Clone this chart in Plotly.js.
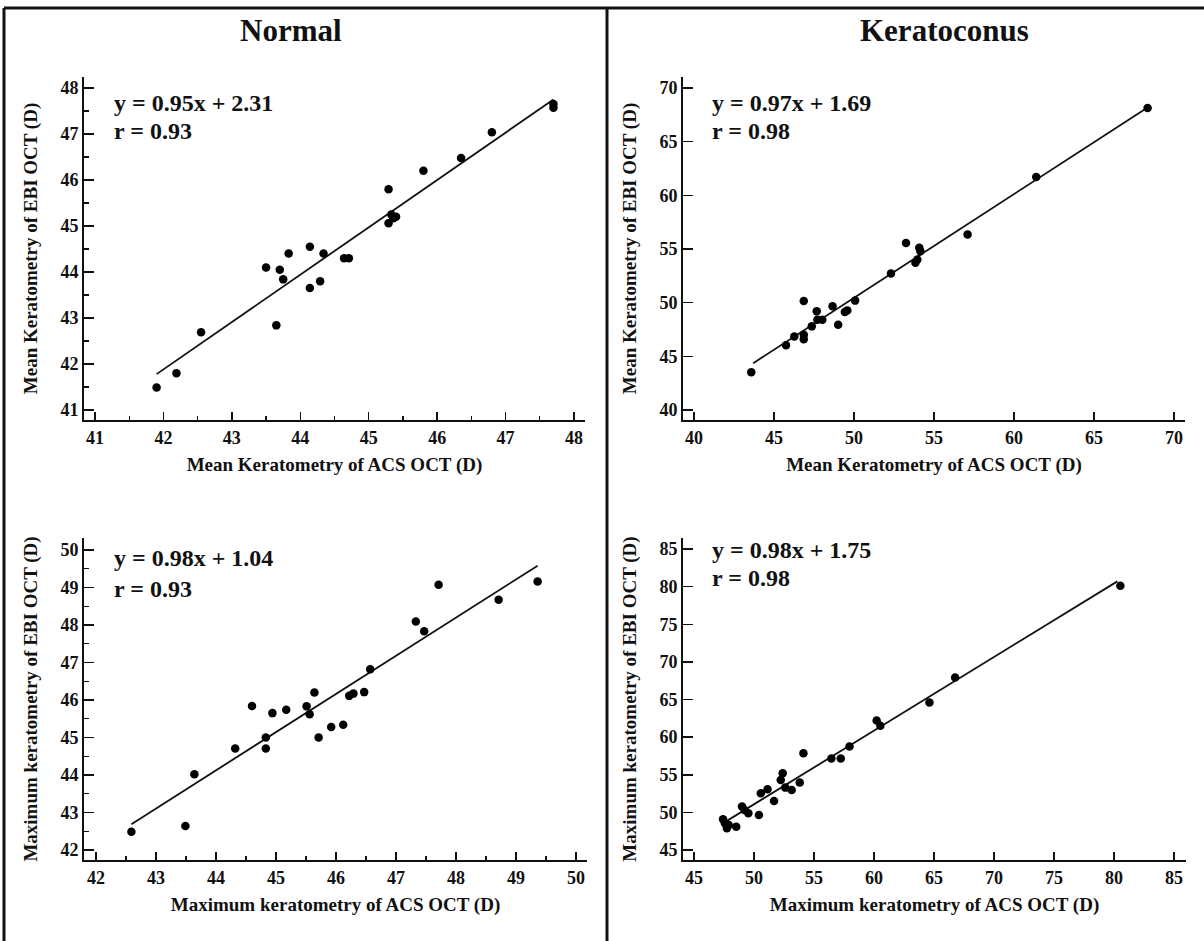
<!DOCTYPE html>
<html>
<head>
<meta charset="utf-8">
<script src="https://cdn.plot.ly/plotly-3.0.1.min.js"></script>
<style>html,body{margin:0;padding:0;background:#fff}#chart{width:1204px;height:941px}</style>
</head>
<body>
<div id="chart"></div>
<script>
// ---- Data ----
// Normal: mean keratometry (ACS OCT vs EBI OCT)
const normalMeanACS = [41.90, 42.19, 42.55, 43.50, 43.70, 43.75, 43.83, 43.65, 44.14, 44.14, 44.29, 44.34, 44.64, 44.71, 45.29, 45.29, 45.33, 45.40, 45.36, 45.80, 46.35, 46.80, 47.70, 47.70];
const normalMeanEBI = [41.49, 41.80, 42.69, 44.10, 44.05, 43.84, 44.40, 42.84, 44.55, 43.65, 43.80, 44.40, 44.30, 44.30, 45.80, 45.06, 45.25, 45.20, 45.17, 46.20, 46.48, 47.04, 47.65, 47.57];
const normalMeanFitX = [41.90, 47.70];
const normalMeanFitY = [41.78, 47.75];

// Keratoconus: mean keratometry
const kcMeanACS = [43.58, 45.75, 46.27, 46.86, 46.86, 46.86, 47.36, 47.67, 47.71, 48.02, 48.66, 49.01, 49.43, 49.58, 50.07, 52.31, 53.25, 53.84, 53.96, 54.08, 54.15, 57.10, 61.39, 68.35];
const kcMeanEBI = [43.52, 46.04, 46.85, 47.01, 46.60, 50.16, 47.79, 49.19, 48.41, 48.41, 49.66, 47.94, 49.13, 49.28, 50.19, 52.71, 55.55, 53.71, 54.02, 55.11, 54.80, 56.36, 61.71, 68.13];
const kcMeanFitX = [43.70, 68.35];
const kcMeanFitY = [44.36, 68.19];

// Normal: maximum keratometry
const normalMaxACS = [42.59, 43.49, 43.64, 44.32, 44.60, 44.83, 44.83, 44.94, 45.17, 45.51, 45.56, 45.64, 45.71, 45.92, 46.12, 46.22, 46.29, 46.47, 46.57, 47.33, 47.47, 47.71, 48.71, 49.36];
const normalMaxEBI = [42.49, 42.64, 44.02, 44.71, 45.84, 45.00, 44.71, 45.65, 45.74, 45.83, 45.62, 46.20, 45.00, 45.28, 45.34, 46.11, 46.17, 46.21, 46.82, 48.09, 47.83, 49.07, 48.67, 49.16];
const normalMaxFitX = [42.59, 49.36];
const normalMaxFitY = [42.69, 49.58];

// Keratoconus: maximum keratometry
const kcMaxACS = [47.42, 47.58, 47.74, 47.89, 48.52, 49.00, 49.21, 49.53, 50.41, 50.57, 51.13, 51.67, 52.23, 52.39, 52.61, 53.14, 53.81, 54.12, 56.45, 57.23, 57.96, 60.22, 60.53, 64.62, 66.76, 80.53];
const kcMaxEBI = [49.08, 48.55, 47.88, 48.33, 48.10, 50.77, 50.32, 49.88, 49.66, 52.54, 53.07, 51.52, 54.31, 55.20, 53.29, 52.98, 53.96, 57.86, 57.15, 57.15, 58.75, 62.21, 61.50, 64.60, 67.93, 80.12];
const kcMaxFitX = [47.64, 80.28];
const kcMaxFitY = [48.77, 80.70];

// Texts
const groupTitles = ["Normal", "Keratoconus"];
const xTitles = ["Mean Keratometry of ACS OCT (D)", "Mean Keratometry of ACS OCT (D)", "Maximum keratometry of ACS OCT (D)", "Maximum keratometry of ACS OCT (D)"];
const yTitles = ["Mean Keratometry of EBI OCT (D)", "Mean Keratometry of EBI OCT (D)", "Maximum keratometry of EBI OCT (D)", "Maximum keratometry of EBI OCT (D)"];
const equations = ["y = 0.95x + 2.31", "y = 0.97x + 1.69", "y = 0.98x + 1.04", "y = 0.98x + 1.75"];
const rValues = ["r = 0.93", "r = 0.98", "r = 0.93", "r = 0.98"];

// ---- Layout helpers ----
const W = 1204, H = 941;
const px = v => v / W;
const py = v => 1 - v / H;
const FONT = "Liberation Serif, Times New Roman, serif";
const INK = "#111";

const panels = [
  {x: normalMeanACS, y: normalMeanEBI, fx: normalMeanFitX, fy: normalMeanFitY, box: [84, 585, 77, 420], xr: [40.839, 48.161], yr: [40.783, 48.239], xd: 1, yd: 1, xm: 0.5, ym: 0.5, eq: [112, 103, 131]},
  {x: kcMeanACS, y: kcMeanEBI, fx: kcMeanFitX, fy: kcMeanFitY, box: [683, 1185, 77, 420], xr: [39.3125, 70.6875], yr: [39.065, 71.028], xd: 5, yd: 5, xm: null, ym: null, eq: [710, 103, 131]},
  {x: normalMaxACS, y: normalMaxEBI, fx: normalMaxFitX, fy: normalMaxFitY, box: [84, 587, 538, 860], xr: [41.8, 50.183], yr: [41.735, 50.318], xd: 1, yd: 1, xm: 0.5, ym: 0.5, eq: [112, 558, 589]},
  {x: kcMaxACS, y: kcMaxEBI, fx: kcMaxFitX, fy: kcMaxFitY, box: [683, 1186, 538, 860], xr: [44.083, 86.0], yr: [43.671, 86.462], xd: 5, yd: 5, xm: null, ym: null, eq: [710, 550, 578]}
];

const traces = [];
const layout = {
  width: W, height: H,
  margin: {l: 0, r: 0, t: 0, b: 0},
  paper_bgcolor: "#fff", plot_bgcolor: "#fff",
  showlegend: false,
  font: {family: FONT, color: INK, weight: "bold"},
  annotations: [], shapes: []
};

panels.forEach((p, i) => {
  const n = i === 0 ? "" : String(i + 1);
  const xa = "x" + n, ya = "y" + n;
  traces.push({
    type: "scatter", mode: "lines", x: p.fx, y: p.fy, xaxis: xa, yaxis: ya,
    line: {color: INK, width: 1.8}, hoverinfo: "skip"
  });
  traces.push({
    type: "scatter", mode: "markers", x: p.x, y: p.y, xaxis: xa, yaxis: ya,
    marker: {color: "#000", size: 8.5}
  });
  const common = {
    showgrid: false, zeroline: false, showline: true, linecolor: INK, linewidth: 2,
    ticks: "inside", tickcolor: INK, tickwidth: 1.5, mirror: false,
    tickfont: {family: FONT, size: 18, color: INK, weight: "bold"}
  };
  const xaxis = Object.assign({}, common, {
    domain: [px(p.box[0]), px(p.box[1])], range: p.xr, anchor: ya,
    dtick: p.xd, ticklen: 8,
    title: {text: xTitles[i], font: {family: FONT, size: 19, color: INK, weight: "bold"}, standoff: 11}
  });
  const yaxis = Object.assign({}, common, {
    domain: [py(p.box[3]), py(p.box[2])], range: p.yr, anchor: xa,
    dtick: p.yd, ticklen: 10,
    title: {text: yTitles[i], font: {family: FONT, size: 19, color: INK, weight: "bold"}, standoff: 18}
  });
  if (p.xm) xaxis.minor = {dtick: p.xm, ticks: "inside", ticklen: 4, tickcolor: INK, tickwidth: 1.2, showgrid: false};
  if (p.ym) yaxis.minor = {dtick: p.ym, ticks: "inside", ticklen: 5, tickcolor: INK, tickwidth: 1.2, showgrid: false};
  layout["xaxis" + n] = xaxis;
  layout["yaxis" + n] = yaxis;

  layout.annotations.push({
    xref: "paper", yref: "paper", x: px(p.eq[0]), y: py(p.eq[1]), xanchor: "left", yanchor: "middle",
    text: equations[i], showarrow: false, font: {family: FONT, size: 24, color: INK, weight: "bold"}
  });
  layout.annotations.push({
    xref: "paper", yref: "paper", x: px(p.eq[0]), y: py(p.eq[2]), xanchor: "left", yanchor: "middle",
    text: rValues[i], showarrow: false, font: {family: FONT, size: 24, color: INK, weight: "bold"}
  });
});

// group titles
[[291, 30], [944, 30]].forEach((pos, i) => {
  layout.annotations.push({
    xref: "paper", yref: "paper", x: px(pos[0]), y: py(pos[1]), xanchor: "center", yanchor: "middle",
    text: groupTitles[i], showarrow: false, font: {family: FONT, size: 31, color: INK, weight: "bold"}
  });
});

// frame lines
const frame = [
  [4, 8, 4, H],      // left border
  [4, 8, 1204, 8],   // top border
  [607, 8, 607, H]   // divider
];
frame.forEach(f => {
  layout.shapes.push({type: "line", xref: "paper", yref: "paper",
    x0: px(f[0]), y0: py(f[1]), x1: px(f[2]), y1: py(f[3]),
    line: {color: INK, width: 3}});
});

Plotly.newPlot("chart", traces, layout, {staticPlot: true, displayModeBar: false});
</script>
</body>
</html>
